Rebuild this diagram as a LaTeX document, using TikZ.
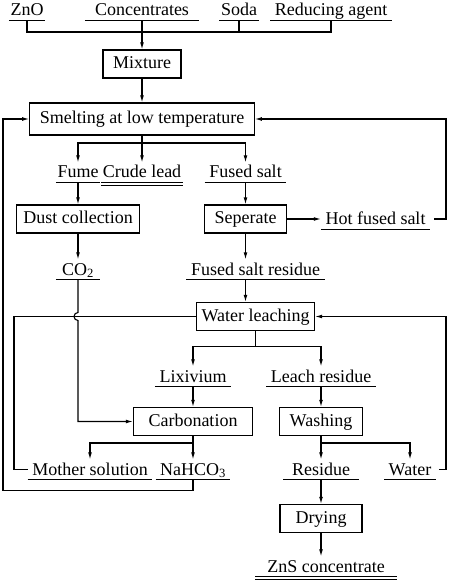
\documentclass[tikz,border=0pt]{standalone}
\usepackage{fontspec}
\setmainfont{Liberation Serif}
\usetikzlibrary{arrows.meta,positioning}

\begin{document}
\begin{tikzpicture}[x=1pt, y=1pt, node distance=40pt, on grid,
    line width=1.1pt, >={Latex[length=7pt,width=3.8pt]},
    every node/.style={font=\fontsize{18}{20}\selectfont},
    proc/.style={draw, inner xsep=10pt, inner ysep=5.5pt, text height=13pt, text depth=4pt},
    prod/.style={inner xsep=4pt, inner ysep=2pt, text height=13pt, text depth=2pt,
      append after command={(\tikzlastnode.south west) edge[-] (\tikzlastnode.south east)}},
    final/.style={prod,
      append after command={([yshift=-3pt]\tikzlastnode.south west) edge[-] ([yshift=-3pt]\tikzlastnode.south east)}}]
\useasboundingbox (0,0) rectangle (450,-580);

% raw materials and smelting
\node[proc, minimum height=32pt] (smelt) at (142,-119) {Smelting at low temperature};
\node[proc] (mix) [above=55pt of smelt] {Mixture};
\node[prod, minimum width=113pt] (conc) [above=53.5pt of mix] {Concentrates};
\node[prod, inner xsep=1pt] (zno) [left=115pt of conc] {ZnO};
\node[prod, inner xsep=1pt] (soda) [right=97pt of conc] {Soda};
\node[prod] (red) [right=189pt of conc] {Reducing agent};

% smelting products
\node[final, inner xsep=1pt] (crude) [below=53.5pt of smelt] {Crude lead};
\node[prod, inner xsep=1pt] (fume) [left=64pt of crude] {Fume};
\node[prod] (fsalt) [right=103.5pt of crude] {Fused salt};
\node[proc, inner xsep=6.5pt] (dust) [below=46.5pt of fume] {Dust collection};
\node[proc] (sep) [below=46.5pt of fsalt] {Seperate};
\node[prod] (hot) [right=130pt of sep] {Hot fused salt};
\node[prod, minimum width=43pt] (co2) [below=50.5pt of dust] {CO\textsubscript{2}};
\node[prod] (fres) [below right=50.5pt and 10pt of sep] {Fused salt residue};

% leaching
\node[proc, inner xsep=5pt] (leach) [below=47pt of fres] {Water leaching};
\node[prod] (lix) [below left=60pt and 62.5pt of leach] {Lixivium};
\node[prod] (lres) [below right=60pt and 65.5pt of leach] {Leach residue};
\node[proc, minimum width=119pt] (carb) [below=45pt of lix] {Carbonation};
\node[proc] (wash) [below=45pt of lres] {Washing};
\node[prod] (mother) [below left=48pt and 103pt of carb] {Mother solution};
\node[prod] (nahco) [below=48pt of carb] {NaHCO\textsubscript{3}};
\node[prod, minimum width=74pt] (resid) [below=48pt of wash] {Residue};
\node[prod] (water) [right=89pt of resid] {Water};
\node[proc, minimum width=82pt] (dry) [below=49pt of resid] {Drying};
\node[final, minimum width=140pt] (zns) [below right=48pt and 5pt of dry] {ZnS concentrate};

% rails and branch points
\coordinate (orail) at (3,0);
\coordinate (lrail) at (14,0);
\coordinate (rrail) at (446,0);
\coordinate (feed) at ([yshift=32pt]mix.center);
\coordinate (b1) at ([yshift=-24pt]smelt.center);
\coordinate (b2) at ([yshift=-30pt]leach.center);
\coordinate (b3) at ([yshift=-21.5pt]carb.center);
\coordinate (b4) at ([yshift=-21.5pt]wash.center);

\draw (zno) |- (feed) -| (red);
\draw (soda) -- (soda |- feed);
\draw[->] (conc) -- (mix);
\draw[->] (mix) -- (smelt);

\draw (smelt) -- (b1);
\draw[->] (b1) -| (fume);
\draw[->] (b1) -| (fsalt);
\draw[->] (b1) -- (crude);
\draw[->] (fume) -- (dust);
\draw[->] (fsalt) -- (sep);
\draw[->] (sep) -- (hot);
\draw[->] (dust) -- (co2);
\draw[->] (sep) -- (sep |- fres.north);
\draw[->, shorten <=4pt] (hot) -- (rrail |- hot) |- (smelt);

\draw[->] (sep |- fres.south) -- (sep |- leach.north);
\draw (leach) -- (b2);
\draw[->] (b2) -| (lix);
\draw[->] (b2) -| (lres);
\draw[->] (lix) -- (carb);
\draw[->] (lres) -- (wash);
\draw[->] (co2) -- ([yshift=4pt]co2 |- leach) arc[start angle=90, end angle=270, radius=4pt] |- (carb);
\draw (leach) -- (lrail |- leach) |- (mother);
\draw (carb) -- (b3);
\draw[->] (b3) -| (mother);
\draw[->] (b3) -- (nahco);
\draw[->] (nahco.south) -- ++(0,-11pt) -| (orail |- smelt) -- (smelt);
\draw (wash) -- (b4);
\draw[->] (b4) -- (resid);
\draw[->] (b4) -| (water);
\draw[->, shorten <=3pt] (water) -- (rrail |- water) |- (leach);
\draw[->] (resid) -- (dry);
\draw[->] (dry) -- (dry |- zns.north);
\end{tikzpicture}
\end{document}
